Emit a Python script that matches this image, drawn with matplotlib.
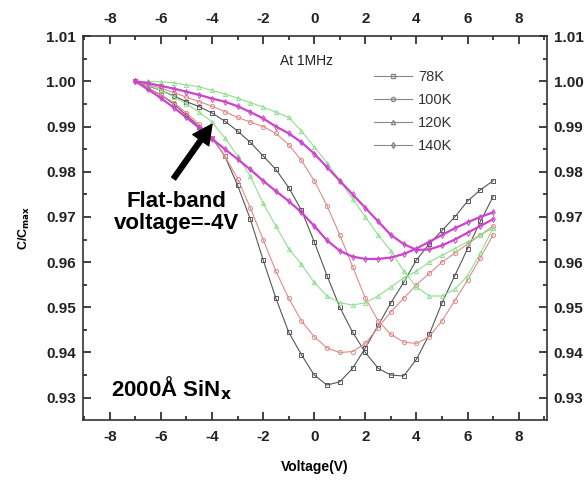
import matplotlib
matplotlib.use("Agg")
import matplotlib.pyplot as plt
from matplotlib.ticker import MultipleLocator, FormatStrFormatter

plt.rcParams['font.family'] = ['Liberation Sans', 'DejaVu Sans']
plt.rcParams['axes.unicode_minus'] = False

voltage = [-7, -6.5, -6, -5.5, -5, -4.5, -4, -3.5, -3, -2.5, -2, -1.5, -1, -0.5,
           0, 0.5, 1, 1.5, 2, 2.5, 3, 3.5, 4, 4.5, 5, 5.5, 6, 6.5, 7]

# two sweeps per temperature (minimum on the left / on the right)
c_78k_a = [1.000, 0.9985, 0.997, 0.995, 0.9925, 0.990, 0.9875, 0.9835, 0.977, 0.9695,
           0.9605, 0.952, 0.9445, 0.9395, 0.935, 0.9328, 0.9335, 0.9365, 0.941, 0.946,
           0.951, 0.9555, 0.9605, 0.964, 0.967, 0.970, 0.9735, 0.976, 0.978]
c_78k_b = [1.000, 0.999, 0.998, 0.9968, 0.9955, 0.9944, 0.993, 0.9912, 0.989, 0.9865,
           0.9835, 0.9805, 0.9765, 0.9715, 0.9645, 0.957, 0.950, 0.9445, 0.940, 0.9365,
           0.935, 0.9348, 0.9385, 0.944, 0.951, 0.957, 0.963, 0.969, 0.9745]
c_100k_a = [1.000, 0.9985, 0.997, 0.9953, 0.993, 0.9905, 0.9875, 0.9835, 0.9785, 0.972,
            0.965, 0.958, 0.952, 0.947, 0.9435, 0.941, 0.940, 0.9402, 0.942, 0.9455,
            0.949, 0.952, 0.955, 0.9575, 0.960, 0.962, 0.964, 0.966, 0.968]
c_100k_b = [1.000, 0.9993, 0.9985, 0.9975, 0.9965, 0.9955, 0.9945, 0.9933, 0.992, 0.991,
            0.990, 0.9885, 0.986, 0.9825, 0.978, 0.9725, 0.966, 0.959, 0.952, 0.947,
            0.944, 0.9423, 0.942, 0.9435, 0.947, 0.9515, 0.956, 0.961, 0.966]
c_120k_a = [1.000, 0.9992, 0.998, 0.9966, 0.995, 0.9932, 0.991, 0.9875, 0.9835, 0.979,
            0.973, 0.968, 0.963, 0.9595, 0.9555, 0.9525, 0.951, 0.9505, 0.951, 0.9525,
            0.9545, 0.9565, 0.958, 0.960, 0.9615, 0.963, 0.9645, 0.966, 0.9675]
c_120k_b = [1.000, 1.000, 0.9999, 0.9997, 0.9992, 0.9988, 0.998, 0.9972, 0.9963, 0.9953,
            0.9943, 0.9932, 0.992, 0.989, 0.9855, 0.982, 0.978, 0.974, 0.970, 0.966,
            0.9625, 0.958, 0.9545, 0.9525, 0.9525, 0.954, 0.957, 0.962, 0.9675]
c_140k_a = [1.000, 0.9982, 0.9963, 0.9942, 0.992, 0.9897, 0.9873, 0.985, 0.9828, 0.9805,
            0.978, 0.9757, 0.9735, 0.971, 0.968, 0.9648, 0.9625, 0.9612, 0.9607, 0.9607,
            0.961, 0.9618, 0.963, 0.9645, 0.966, 0.9675, 0.9688, 0.970, 0.971]
c_140k_b = [1.000, 0.9996, 0.999, 0.9984, 0.9977, 0.997, 0.9962, 0.9955, 0.9945, 0.9932,
            0.9918, 0.990, 0.9885, 0.9865, 0.984, 0.981, 0.978, 0.975, 0.972, 0.969,
            0.966, 0.964, 0.9627, 0.9628, 0.9637, 0.965, 0.9665, 0.968, 0.9695]

labels = ['78K', '100K', '120K', '140K']
colors = ['#555555', '#e08a8a', '#8fe08f', '#cc44cc']
markers = ['s', 'o', '^', 'd']
series = [(c_78k_a, c_78k_b), (c_100k_a, c_100k_b), (c_120k_a, c_120k_b), (c_140k_a, c_140k_b)]

fig = plt.figure(figsize=(5.88, 4.82), dpi=100)
ax = fig.add_axes([0.141, 0.129, 0.789, 0.796])

for (ca, cb), col, mk in zip(series, colors, markers):
    lw = 1.6 if col == '#cc44cc' else 0.8
    for c in (ca, cb):
        ax.plot(voltage, c, color=col, lw=lw, marker=mk, ms=3, mfc='none', mew=0.7)

# legend (grey sample lines)
handles = [ax.plot([], [], color='#888888', lw=0.8, marker=mk, ms=3, mfc='none')[0]
           for mk in markers]
ax.legend(handles, labels, loc='upper left', bbox_to_anchor=(0.60, 0.945), frameon=False,
          fontsize=10.5, handlelength=2.6, labelspacing=0.6, handletextpad=0.4,
          labelcolor='#333333')

ax.set_xlim(-9.05, 9.1)
ax.set_ylim(0.9251, 1.01)
ax.xaxis.set_major_locator(MultipleLocator(2))
ax.xaxis.set_minor_locator(MultipleLocator(1))
ax.yaxis.set_major_locator(MultipleLocator(0.01))
ax.yaxis.set_minor_locator(MultipleLocator(0.005))
ax.yaxis.set_major_formatter(FormatStrFormatter('%.2f'))
ax.tick_params(which='both', direction='in', top=True, right=True,
               labeltop=True, labelright=True, width=1.2, colors='#222222')
ax.tick_params(which='major', length=6, labelsize=11, pad=7)
ax.tick_params(axis='y', which='major', pad=5)
ax.tick_params(which='minor', length=3)
for t in ax.xaxis.get_major_ticks() + ax.yaxis.get_major_ticks():
    t.label1.set_fontweight('bold')
    t.label2.set_fontweight('bold')
for s in ax.spines.values():
    s.set_linewidth(1.2)
    s.set_color('#333333')

ax.set_xlabel('Voltage(V)', fontsize=10, fontweight='bold', labelpad=12)
ax.set_ylabel('C/C$_{\\mathbf{max}}$', fontsize=9, fontweight='bold', labelpad=10)

ax.text(-0.3, 1.0046, 'At 1MHz', fontsize=10, ha='center', va='center', color='#222222')
ax.text(-5.4, 0.971, 'Flat-band\nvoltage=-4V', fontsize=16, fontweight='bold',
        ha='center', va='center', linespacing=1.1)
ax.text(-7.95, 0.9322, '2000Å SiN$_\\mathbf{x}$', fontsize=16, fontweight='bold',
        ha='left', va='center')
ax.annotate('', xy=(-4.0, 0.9905), xytext=(-5.5, 0.9785),
            arrowprops=dict(facecolor='black', edgecolor='black', width=3.5,
                            headwidth=14, headlength=14))

fig.savefig('out.png', dpi=100)
